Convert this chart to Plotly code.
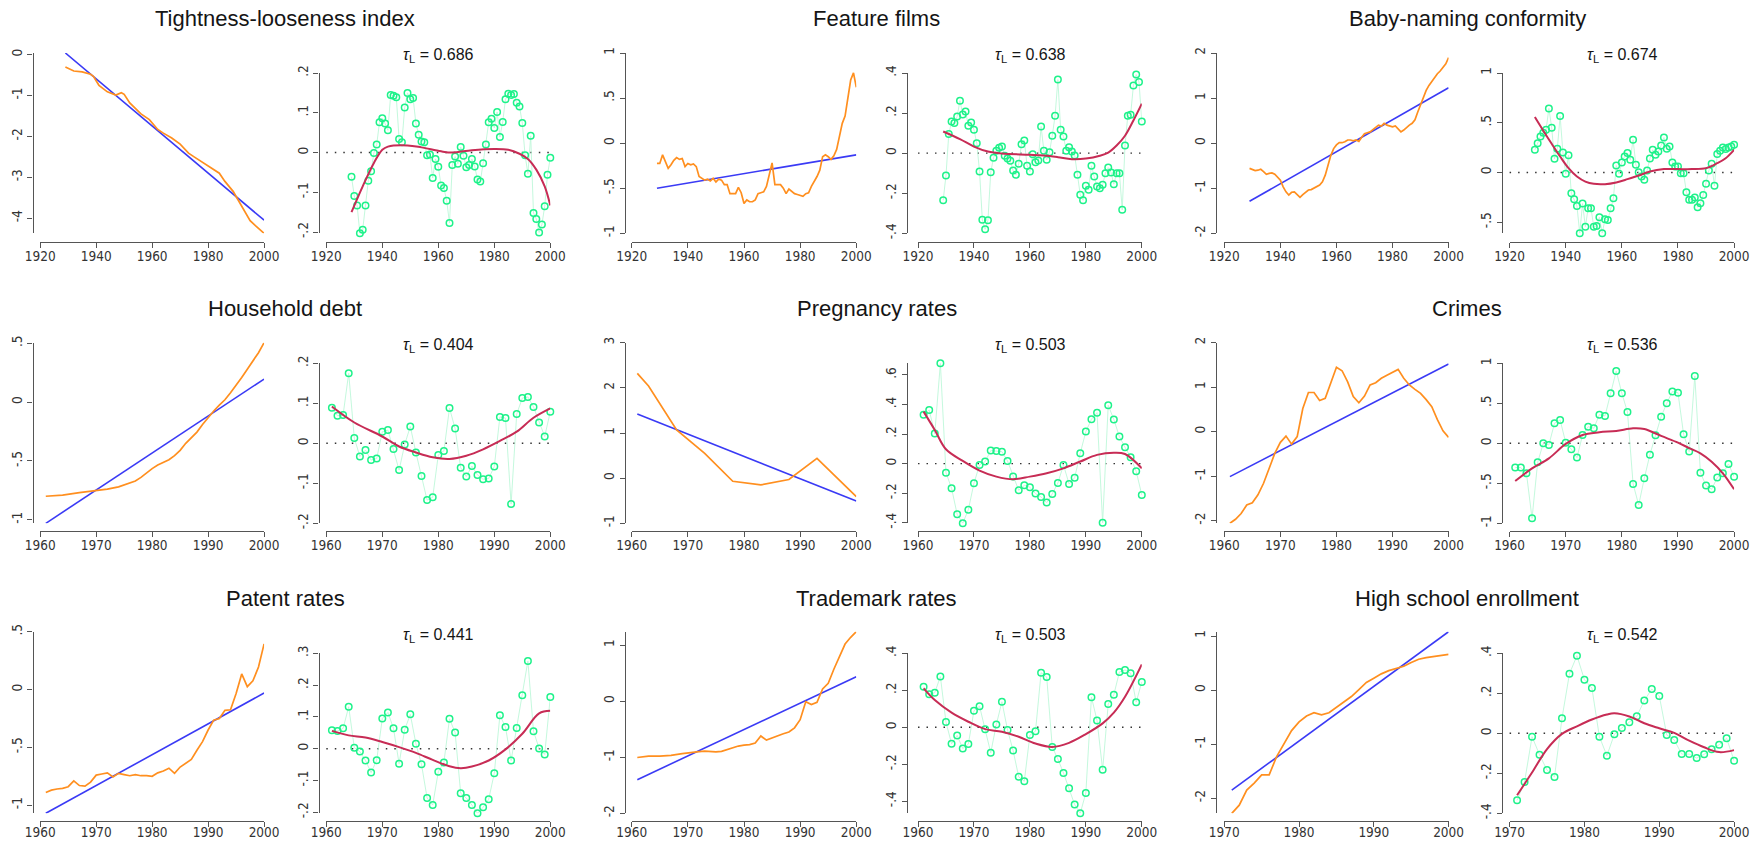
import plotly.graph_objects as go

W, H = 1753, 841

# ---------------- data ----------------
titles = ["Tightness-looseness index", "Feature films", "Baby-naming conformity",
          "Household debt", "Pregnancy rates", "Crimes",
          "Patent rates", "Trademark rates", "High school enrollment"]
taus = ["0.686", "0.638", "0.674", "0.404", "0.503", "0.536", "0.441", "0.503", "0.542"]

xticks_long = [1920, 1940, 1960, 1980, 2000]
xticks_mid = [1960, 1970, 1980, 1990, 2000]
xticks_short = [1970, 1980, 1990, 2000]

years_1929 = list(range(1929, 2001))
years_1961 = list(range(1961, 2001))
years_1971 = list(range(1971, 2001))

# Panel 1: Tightness-looseness index
p1_lev_years = [1929, 1932, 1935, 1938, 1939, 1941, 1944, 1947, 1949, 1950, 1952, 1954, 1956, 1959, 1962,
                1964, 1967, 1970, 1973, 1975, 1978, 1981, 1984, 1986, 1989, 1990, 1992, 1995, 1997, 2000]
p1_lev = [-0.30, -0.40, -0.42, -0.48, -0.53, -0.75, -0.91, -0.99, -0.93, -0.97, -1.18, -1.31, -1.45, -1.59, -1.83,
          -1.92, -2.04, -2.19, -2.41, -2.50, -2.63, -2.75, -2.90, -3.10, -3.35, -3.47, -3.72, -4.06, -4.19, -4.37]
p1_trend_years = [1929, 2000]
p1_trend = [0.04, -4.05]
p1_res = [-0.061, -0.109, -0.133, -0.203, -0.194, -0.133, -0.071, -0.047, -0.001, 0.020,
          0.076, 0.086, 0.073, 0.056, 0.145, 0.143, 0.139, 0.034, 0.026, 0.113,
          0.150, 0.134, 0.137, 0.073, 0.045, 0.028, 0.026, -0.007, -0.005, -0.064,
          -0.016, -0.036, -0.083, -0.089, -0.121, -0.177, -0.031, -0.010, -0.028, 0.014,
          -0.008, -0.037, -0.031, -0.016, -0.035, -0.068, -0.073, -0.027, 0.020, 0.076,
          0.085, 0.062, 0.102, 0.039, 0.077, 0.134, 0.148, 0.145, 0.147, 0.125,
          0.116, 0.074, -0.007, -0.053, 0.042, -0.152, -0.167, -0.201, -0.181, -0.135,
          -0.056, -0.013]
p1_fit_years = [1929, 1933, 1937, 1940, 1942, 1949, 1954, 1961, 1965, 1972, 1980, 1985, 1989, 1992, 1995, 1998, 2000]
p1_fit = [-0.150, -0.085, -0.026, 0.007, 0.015, 0.018, 0.013, 0.003, 0.000, 0.006, 0.009, 0.007, -0.003, -0.016,
          -0.043, -0.085, -0.133]
p1_lticks = [-4, -3, -2, -1, 0]
p1_rticks = [-0.2, -0.1, 0, 0.1, 0.2]

# Panel 2: Feature films
p2_lev = [-0.225, -0.225, -0.13, -0.21, -0.28, -0.24, -0.19, -0.16, -0.18, -0.17,
          -0.26, -0.225, -0.24, -0.23, -0.26, -0.37, -0.39, -0.41, -0.40, -0.42,
          -0.39, -0.43, -0.40, -0.41, -0.46, -0.46, -0.56, -0.56, -0.56, -0.49,
          -0.55, -0.67, -0.63, -0.65, -0.65, -0.63, -0.56, -0.55, -0.54, -0.48,
          -0.35, -0.22, -0.46, -0.46, -0.46, -0.50, -0.56, -0.51, -0.54, -0.56,
          -0.57, -0.58, -0.59, -0.56, -0.55, -0.48, -0.43, -0.37, -0.30, -0.15,
          -0.13, -0.15, -0.18, -0.14, -0.07, 0.06, 0.22, 0.30, 0.51, 0.70,
          0.78, 0.62]
p2_trend_years = [1929, 2000]
p2_trend = [-0.50, -0.13]
p2_res = [-0.235, -0.112, 0.095, 0.158, 0.150, 0.183, 0.262, 0.193, 0.208, 0.137,
          0.153, 0.117, 0.050, -0.092, -0.333, -0.380, -0.335, -0.095, -0.023, 0.012,
          0.027, 0.033, -0.013, -0.027, -0.038, -0.087, -0.108, -0.053, 0.045, 0.063,
          -0.063, -0.092, -0.005, -0.045, -0.037, 0.133, 0.012, -0.033, 0.005, 0.087,
          0.187, 0.367, 0.117, 0.083, 0.012, 0.030, 0.008, -0.012, -0.108, -0.208,
          -0.235, -0.163, -0.183, -0.063, -0.117, -0.167, -0.175, -0.158, -0.100, -0.072,
          -0.097, -0.155, -0.100, -0.100, -0.283, 0.038, 0.187, 0.192, 0.337, 0.392,
          0.355, 0.158]
p2_fit_years = [1929, 1935, 1940, 1945, 1950, 1960, 1965, 1970, 1975, 1980, 1985, 1988, 1991, 1994, 1997, 2000]
p2_fit = [0.108, 0.07, 0.033, 0.008, -0.002, -0.008, -0.012, -0.02, -0.03, -0.027, -0.013, 0.003, 0.038, 0.087,
          0.163, 0.247]
p2_lticks = [-1, -0.5, 0, 0.5, 1]
p2_rticks = [-0.4, -0.2, 0, 0.2, 0.4]

# Panel 3: Baby-naming conformity
p3_lev = [-0.56, -0.58, -0.61, -0.60, -0.58, -0.63, -0.69, -0.67, -0.66, -0.69,
          -0.75, -0.82, -0.97, -1.08, -1.15, -1.09, -1.08, -1.15, -1.20, -1.14,
          -1.08, -1.04, -1.03, -1.00, -0.97, -0.93, -0.86, -0.71, -0.49, -0.27,
          -0.12, -0.04, 0.01, 0.01, 0.03, 0.07, 0.07, 0.05, 0.07, 0.04,
          0.13, 0.21, 0.23, 0.25, 0.30, 0.36, 0.40, 0.38, 0.44, 0.40,
          0.38, 0.36, 0.38, 0.32, 0.25, 0.29, 0.35, 0.40, 0.44, 0.52,
          0.69, 0.86, 1.03, 1.17, 1.28, 1.37, 1.45, 1.54, 1.60, 1.69,
          1.76, 1.90]
p3_trend_years = [1929, 2000]
p3_trend = [-1.29, 1.23]
p3_res = [0.228, 0.295, 0.362, 0.40, 0.430, 0.644, 0.450, 0.138, 0.238, 0.567,
          0.201, -0.013, 0.174, -0.208, -0.268, -0.336, -0.611, -0.312, -0.544, -0.359,
          -0.359, -0.544, -0.537, -0.450, -0.611, -0.470, -0.477, -0.359, -0.258, 0.070,
          -0.013, 0.101, 0.161, 0.195, 0.128, 0.329, 0.077, 0.003, -0.040, -0.074,
          0.020, 0.141, 0.228, 0.178, 0.211, 0.272, 0.352, 0.238, 0.262, 0.101,
          0.060, 0.060, -0.007, -0.007, -0.198, -0.275, -0.275, -0.252, -0.349, -0.309,
          -0.225, -0.114, 0.020, 0.087, -0.134, 0.185, 0.218, 0.252, 0.235, 0.252,
          0.262, 0.279]
p3_fit_years = [1929, 1932, 1935, 1938, 1941, 1944, 1947, 1950, 1954, 1958, 1962, 1966, 1970, 1975, 1980, 1985,
                1990, 1994, 1997, 2000]
p3_fit = [0.557, 0.42, 0.289, 0.161, 0.044, -0.040, -0.091, -0.114, -0.117, -0.10, -0.067, -0.030, 0.010, 0.034,
          0.034, 0.034, 0.044, 0.094, 0.144, 0.228]
p3_lticks = [-2, -1, 0, 1, 2]
p3_rticks = [-0.5, 0, 0.5, 1]

# Panel 4: Household debt
p4_lev_years = [1961, 1964, 1967, 1970, 1972, 1974, 1976, 1977, 1978, 1979, 1980, 1981, 1982, 1983, 1984, 1985,
                1986, 1987, 1988, 1989, 1990, 1991, 1992, 1993, 1994, 1995, 1996, 1997, 1998, 1999, 2000]
p4_lev = [-0.80, -0.79, -0.77, -0.75, -0.74, -0.72, -0.69, -0.67, -0.64, -0.60, -0.565, -0.535, -0.51, -0.49,
          -0.455, -0.41, -0.35, -0.30, -0.255, -0.19, -0.13, -0.075, -0.025, 0.02, 0.08, 0.14, 0.21, 0.28, 0.35,
          0.42, 0.505]
p4_trend_years = [1961, 2000]
p4_trend = [-1.03, 0.196]
p4_res = [0.089, 0.069, 0.071, 0.175, 0.013, -0.033, -0.017, -0.042, -0.038, 0.029,
          0.033, -0.014, -0.067, -0.003, 0.042, -0.023, -0.082, -0.142, -0.135, -0.029,
          -0.019, 0.088, 0.037, -0.061, -0.083, -0.057, -0.079, -0.090, -0.088, -0.058,
          0.066, 0.063, -0.152, 0.073, 0.113, 0.116, 0.091, 0.052, 0.017, 0.079]
p4_fit_years = [1961, 1965, 1970, 1973, 1976, 1979, 1982, 1985, 1988, 1991, 1994, 1997, 2000]
p4_fit = [0.092, 0.052, 0.017, -0.008, -0.023, -0.035, -0.039, -0.031, -0.015, 0.006, 0.029, 0.064, 0.0875]
p4_lticks = [-1, -0.5, 0, 0.5]
p4_rticks = [-0.2, -0.1, 0, 0.1, 0.2]

# Panel 5: Pregnancy rates
p5_lev_years = [1961, 1963, 1968, 1973, 1978, 1983, 1988, 1993, 2000]
p5_lev = [2.32, 2.04, 1.07, 0.55, -0.07, -0.15, -0.03, 0.44, -0.41]
p5_trend_years = [1961, 2000]
p5_trend = [1.42, -0.505]
p5_res = [0.330, 0.363, 0.203, 0.679, -0.061, -0.167, -0.343, -0.404, -0.312, -0.133,
          -0.009, 0.014, 0.088, 0.086, 0.081, 0.018, -0.088, -0.181, -0.147, -0.160,
          -0.203, -0.226, -0.264, -0.205, -0.131, -0.009, -0.138, -0.095, 0.070, 0.217,
          0.300, 0.345, -0.400, 0.395, 0.298, 0.183, 0.111, 0.043, -0.052, -0.212]
p5_fit_years = [1961, 1963, 1965, 1968, 1971, 1974, 1977, 1980, 1983, 1986, 1989, 1992, 1995, 1997, 2000]
p5_fit = [0.352, 0.228, 0.097, 0.018, -0.047, -0.088, -0.106, -0.088, -0.065, -0.032, 0.014, 0.059, 0.074, 0.065,
          -0.032]
p5_lticks = [-1, 0, 1, 2, 3]
p5_rticks = [-0.4, -0.2, 0, 0.2, 0.4, 0.6]

# Panel 6: Crimes
p6_lev = [-2.06, -1.97, -1.84, -1.65, -1.60, -1.42, -1.16, -0.82, -0.49, -0.24,
          -0.10, -0.28, -0.11, 0.52, 0.88, 0.88, 0.70, 0.75, 1.12, 1.45,
          1.37, 1.12, 0.79, 0.65, 0.80, 1.05, 1.10, 1.20, 1.27, 1.33,
          1.40, 1.20, 1.05, 0.95, 0.86, 0.72, 0.56, 0.27, 0.02, -0.13]
p6_trend_years = [1961, 2000]
p6_trend = [-1.01, 1.52]
p6_res = [-0.304, -0.304, -0.375, -0.938, -0.238, 0.000, -0.021, 0.250, 0.292, 0.008,
          -0.075, -0.179, 0.104, 0.208, 0.188, 0.358, 0.342, 0.625, 0.904, 0.625,
          0.392, -0.508, -0.771, -0.438, -0.142, 0.100, 0.333, 0.500, 0.646, 0.633,
          0.113, -0.104, 0.842, -0.367, -0.529, -0.575, -0.429, -0.375, -0.258, -0.417]
p6_fit_years = [1961, 1964, 1967, 1970, 1973, 1976, 1979, 1982, 1984, 1987, 1990, 1992, 1994, 1996, 1998, 2000]
p6_fit = [-0.471, -0.313, -0.188, -0.008, 0.104, 0.138, 0.154, 0.188, 0.179, 0.092, 0.008, -0.06, -0.125, -0.23,
          -0.375, -0.575]
p6_lticks = [-2, -1, 0, 1, 2]
p6_rticks = [-1, -0.5, 0, 0.5, 1]

# Panel 7: Patent rates
p7_lev = [-0.89, -0.87, -0.86, -0.855, -0.84, -0.79, -0.83, -0.835, -0.80, -0.74,
          -0.73, -0.72, -0.755, -0.725, -0.735, -0.745, -0.735, -0.745, -0.745, -0.75,
          -0.72, -0.705, -0.68, -0.725, -0.67, -0.64, -0.605, -0.525, -0.45, -0.35,
          -0.265, -0.25, -0.18, -0.175, -0.035, 0.135, 0.025, 0.075, 0.195, 0.395]
p7_trend_years = [1961, 2000]
p7_trend = [-1.07, -0.03]
p7_res = [0.058, 0.056, 0.064, 0.132, 0.003, -0.009, -0.037, -0.075, -0.036, 0.095,
          0.114, 0.064, -0.047, 0.060, 0.108, 0.016, -0.049, -0.155, -0.177, -0.072,
          -0.043, 0.094, 0.051, -0.140, -0.155, -0.177, -0.203, -0.184, -0.159, -0.077,
          0.105, 0.068, -0.037, 0.065, 0.168, 0.276, 0.055, 0.001, -0.018, 0.163]
p7_fit_years = [1961, 1964, 1967, 1970, 1973, 1976, 1979, 1982, 1984, 1986, 1989, 1992, 1995, 1998, 2000]
p7_fit = [0.056, 0.042, 0.035, 0.021, 0.005, -0.013, -0.035, -0.055, -0.061, -0.056, -0.037, -0.002, 0.047, 0.111,
          0.119]
p7_lticks = [-1, -0.5, 0, 0.5]
p7_rticks = [-0.2, -0.1, 0, 0.1, 0.2, 0.3]

# Panel 8: Trademark rates
p8_lev_years = [1961, 1963, 1965, 1967, 1969, 1970, 1971, 1972, 1973, 1974, 1975, 1976, 1977, 1978, 1979, 1980,
                1981, 1982, 1983, 1984, 1985, 1986, 1987, 1988, 1989, 1990, 1991, 1992, 1993, 1994, 1995, 1996,
                1997, 1998, 1999, 2000]
p8_lev = [-1.005, -0.98, -0.98, -0.965, -0.935, -0.92, -0.905, -0.90, -0.89, -0.895, -0.905, -0.895, -0.86, -0.83,
          -0.80, -0.785, -0.775, -0.745, -0.62, -0.695, -0.655, -0.625, -0.58, -0.55, -0.475, -0.33, -0.01, -0.06,
          -0.02, 0.22, 0.32, 0.57, 0.80, 1.02, 1.14, 1.24]
p8_trend_years = [1961, 2000]
p8_trend = [-1.40, 0.435]
p8_res = [0.219, 0.178, 0.187, 0.274, 0.028, -0.089, -0.044, -0.115, -0.091, 0.089,
          0.114, -0.010, -0.138, 0.015, 0.138, -0.014, -0.126, -0.268, -0.292, -0.042,
          -0.021, 0.295, 0.272, -0.107, -0.172, -0.247, -0.330, -0.418, -0.465, -0.355,
          0.163, 0.037, -0.230, 0.126, 0.176, 0.299, 0.310, 0.292, 0.136, 0.245]
p8_fit_years = [1961, 1963, 1966, 1969, 1972, 1975, 1978, 1981, 1984, 1987, 1990, 1993, 1995, 1997, 2000]
p8_fit = [0.210, 0.147, 0.079, 0.030, -0.010, -0.024, -0.051, -0.088, -0.106, -0.084, -0.037, 0.021, 0.079, 0.165,
          0.340]
p8_lticks = [-2, -1, 0, 1]
p8_rticks = [-0.4, -0.2, 0, 0.2, 0.4]

# Panel 9: High school enrollment
p9_lev = [-2.28, -2.13, -1.85, -1.72, -1.57, -1.57, -1.23, -0.98, -0.75, -0.59,
          -0.48, -0.42, -0.46, -0.42, -0.32, -0.23, -0.12, 0.01, 0.14, 0.22,
          0.30, 0.36, 0.40, 0.44, 0.51, 0.57, 0.60, 0.62, 0.63, 0.66]
p9_trend_years = [1971, 2000]
p9_trend = [-1.85, 1.08]
p9_res = [-0.335, -0.243, -0.017, -0.107, -0.184, -0.218, 0.075, 0.298, 0.388, 0.268,
          0.226, -0.017, -0.112, -0.005, 0.027, 0.055, 0.085, 0.164, 0.221, 0.187,
          -0.008, -0.033, -0.104, -0.104, -0.124, -0.105, -0.080, -0.057, -0.025, -0.137]
p9_fit_years = [1971, 1973, 1975, 1977, 1979, 1981, 1983, 1984, 1986, 1988, 1990, 1992, 1994, 1996, 1998, 2000]
p9_fit = [-0.310, -0.196, -0.079, -0.003, 0.035, 0.069, 0.094, 0.100, 0.084, 0.050, 0.025, 0.002, -0.037, -0.070,
          -0.094, -0.084]
p9_lticks = [-2, -1, 0, 1]
p9_rticks = [-0.4, -0.2, 0, 0.2, 0.4]

panels = [
    dict(lev_x=p1_lev_years, lev=p1_lev, tr_x=p1_trend_years, tr=p1_trend, res_x=years_1929, res=p1_res,
         fit_x=p1_fit_years, fit=p1_fit, lt=p1_lticks, rt=p1_rticks, xt=xticks_long),
    dict(lev_x=years_1929, lev=p2_lev, tr_x=p2_trend_years, tr=p2_trend, res_x=years_1929, res=p2_res,
         fit_x=p2_fit_years, fit=p2_fit, lt=p2_lticks, rt=p2_rticks, xt=xticks_long),
    dict(lev_x=years_1929, lev=p3_lev, tr_x=p3_trend_years, tr=p3_trend, res_x=years_1929, res=p3_res,
         fit_x=p3_fit_years, fit=p3_fit, lt=p3_lticks, rt=p3_rticks, xt=xticks_long),
    dict(lev_x=p4_lev_years, lev=p4_lev, tr_x=p4_trend_years, tr=p4_trend, res_x=years_1961, res=p4_res,
         fit_x=p4_fit_years, fit=p4_fit, lt=p4_lticks, rt=p4_rticks, xt=xticks_mid),
    dict(lev_x=p5_lev_years, lev=p5_lev, tr_x=p5_trend_years, tr=p5_trend, res_x=years_1961, res=p5_res,
         fit_x=p5_fit_years, fit=p5_fit, lt=p5_lticks, rt=p5_rticks, xt=xticks_mid),
    dict(lev_x=years_1961, lev=p6_lev, tr_x=p6_trend_years, tr=p6_trend, res_x=years_1961, res=p6_res,
         fit_x=p6_fit_years, fit=p6_fit, lt=p6_lticks, rt=p6_rticks, xt=xticks_mid),
    dict(lev_x=years_1961, lev=p7_lev, tr_x=p7_trend_years, tr=p7_trend, res_x=years_1961, res=p7_res,
         fit_x=p7_fit_years, fit=p7_fit, lt=p7_lticks, rt=p7_rticks, xt=xticks_mid),
    dict(lev_x=p8_lev_years, lev=p8_lev, tr_x=p8_trend_years, tr=p8_trend, res_x=years_1961, res=p8_res,
         fit_x=p8_fit_years, fit=p8_fit, lt=p8_lticks, rt=p8_rticks, xt=xticks_mid),
    dict(lev_x=years_1971, lev=p9_lev, tr_x=p9_trend_years, tr=p9_trend, res_x=years_1971, res=p9_res,
         fit_x=p9_fit_years, fit=p9_fit, lt=p9_lticks, rt=p9_rticks, xt=xticks_short),
]

# ---------------- layout geometry (pixels) ----------------
COLS = [
    {"L": (32.5, 40.2, 264.1), "R": (318.5, 326.3, 550.3), "tx": 285.0, "sx": 438.2},
    {"L": (624.8, 631.7, 856.3), "R": (907.0, 918.0, 1141.8), "tx": 876.6, "sx": 1030.8},
    {"L": (1216.0, 1224.3, 1448.6), "R": (1502.0, 1509.6, 1734.1), "tx": 1467.0, "sx": 1622.2},
]
ROWS = [
    {"Ltop": 53.0, "Rtop": 73.0, "bot": 233.3, "xa": 241.7, "ty": 18.3, "sy": 55.0, "so": -3},
    {"Ltop": 342.7, "Rtop": 363.3, "bot": 523.3, "xa": 530.7, "ty": 308.3, "sy": 345.0, "so": -3},
    {"Ltop": 631.7, "Rtop": 653.3, "bot": 813.3, "xa": 820.7, "ty": 598.3, "sy": 635.0, "so": -6},
]

ORANGE = "#FF8F1F"
BLUE = "#3A3AF5"
GREEN = "#1EF28A"
PALE = "#BDF7D9"
RED = "#C72C55"
AXC = "#555555"
TICKFONT = dict(family="Liberation Sans Narrow, DejaVu Sans Condensed, Liberation Sans, Arial, sans-serif",
                size=13.5, color="#333333")


def fmt(v):
    if abs(v - round(v)) < 1e-9:
        return str(int(round(v)))
    s = f"{v:g}"
    return s.replace("0.", ".")


def aname(k, letter):
    return f"{letter}axis" if k == 1 else f"{letter}axis{k}"


def aref(k, letter):
    return letter if k == 1 else f"{letter}{k}"


fig = go.Figure()
layout = dict(template="none", width=W, height=H, autosize=False, margin=dict(l=0, r=0, t=0, b=0, pad=0),
              paper_bgcolor="white", plot_bgcolor="white", showlegend=False)
shapes = []
annotations = []


def setup_axes(k, xgeom, ytop, ybot, xa_px, standoff, xticks, yticks, yvals):
    ya_px, x0, x1 = xgeom
    lo = min(min(yvals), min(yticks))
    hi = max(max(yvals), max(yticks))
    common = dict(showline=True, linecolor=AXC, linewidth=1.3, ticks="outside", ticklen=5,
                  tickwidth=1.3, tickcolor=AXC, showgrid=False, zeroline=False, tickfont=TICKFONT,
                  anchor="free", automargin=False)
    layout[aname(k, "x")] = dict(common, domain=[x0 / W, x1 / W], range=[xticks[0], xticks[-1]],
                                 position=1 - xa_px / H, tickvals=xticks, ticktext=[str(t) for t in xticks],
                                 ticklabelstandoff=standoff)
    layout[aname(k, "y")] = dict(common, domain=[1 - ybot / H, 1 - ytop / H], range=[lo, hi],
                                 position=ya_px / W, tickvals=yticks, ticktext=[fmt(t) for t in yticks],
                                 tickangle=-90)


for i, p in enumerate(panels):
    r, c = divmod(i, 3)
    col, row = COLS[c], ROWS[r]
    kL, kR = 2 * i + 1, 2 * i + 2

    # left: level series and linear trend
    fig.add_trace(go.Scatter(x=p["tr_x"], y=p["tr"], mode="lines", line=dict(color=BLUE, width=1.6),
                             xaxis=aref(kL, "x"), yaxis=aref(kL, "y"), hoverinfo="skip"))
    fig.add_trace(go.Scatter(x=p["lev_x"], y=p["lev"], mode="lines", line=dict(color=ORANGE, width=1.7),
                             xaxis=aref(kL, "x"), yaxis=aref(kL, "y")))
    setup_axes(kL, col["L"], row["Ltop"], row["bot"], row["xa"], row["so"], p["xt"], p["lt"], p["lev"] + p["tr"])

    # right: detrended deviations and smooth fit
    fig.add_trace(go.Scatter(x=p["res_x"], y=p["res"], mode="lines", line=dict(color=PALE, width=0.9),
                             xaxis=aref(kR, "x"), yaxis=aref(kR, "y"), hoverinfo="skip"))
    fig.add_trace(go.Scatter(x=p["res_x"], y=p["res"], mode="markers", cliponaxis=False,
                             marker=dict(symbol="circle-open", size=6.5, color=GREEN, line=dict(width=1.5)),
                             xaxis=aref(kR, "x"), yaxis=aref(kR, "y")))
    fig.add_trace(go.Scatter(x=p["fit_x"], y=p["fit"], mode="lines",
                             line=dict(color=RED, width=2, shape="spline", smoothing=1.0),
                             xaxis=aref(kR, "x"), yaxis=aref(kR, "y")))
    setup_axes(kR, col["R"], row["Rtop"], row["bot"], row["xa"], row["so"], p["xt"], p["rt"], p["res"] + p["fit"])

    shapes.append(dict(type="line", xref=f"{aref(kR, 'x')} domain", x0=0, x1=1, yref=aref(kR, "y"),
                       y0=0, y1=0, layer="below", line=dict(color="#333333", width=1.4, dash="1.5px,7px")))

    annotations.append(dict(text=titles[i], x=col["tx"] / W, y=1 - row["ty"] / H, xref="paper", yref="paper",
                            xanchor="center", yanchor="middle", showarrow=False,
                            font=dict(family="Liberation Sans, Arial, sans-serif", size=22, color="#151515")))
    annotations.append(dict(text=f"<i>τ</i><sub>L</sub> = {taus[i]}", x=col["sx"] / W, y=1 - row["sy"] / H,
                            xref="paper", yref="paper", xanchor="center", yanchor="middle", showarrow=False,
                            font=dict(family="Liberation Sans, Arial, sans-serif", size=16, color="#151515")))

layout["shapes"] = shapes
layout["annotations"] = annotations
fig.update_layout(**layout)
fig.write_html("out.html", config={"displayModeBar": False, "responsive": False},
               post_script="document.body.style.margin='0px';document.body.style.overflow='hidden';")
